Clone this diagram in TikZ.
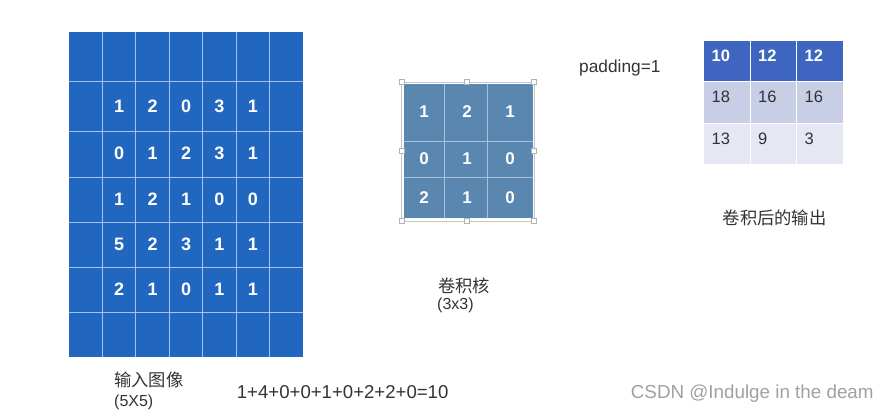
\documentclass[tikz,border=0pt]{standalone}
\usepackage{fontspec}
\setmainfont{Liberation Sans}
\newfontfamily\cjk{Noto Sans CJK SC}
\usetikzlibrary{positioning}
\definecolor{gridc}{HTML}{2167C0}
\definecolor{gridl}{HTML}{A3C2EC}
\definecolor{kerc}{HTML}{5A87B0}
\definecolor{kerl}{HTML}{A9C2DA}
\definecolor{outa}{HTML}{3E66C0}
\definecolor{outb}{HTML}{C8CEE6}
\definecolor{outc}{HTML}{E5E7F2}
\definecolor{txtc}{HTML}{333333}
\definecolor{wmc}{HTML}{A0A0A0}
\tikzset{
  num/.style={text=white,inner sep=0pt,font=\bfseries\fontsize{18}{18}\selectfont},
  knum/.style={text=white,inner sep=0pt,font=\bfseries\fontsize{17}{17}\selectfont},
  onum/.style={anchor=west,inner sep=0pt,text=txtc,font=\fontsize{16.5}{16}\selectfont},
  lbl/.style={anchor=west,inner sep=0pt,text=txtc,font=\cjk\fontsize{17.3}{20}\selectfont},
  txt/.style={anchor=west,inner sep=0pt,text=txtc,font=\fontsize{17.3}{20}\selectfont},
  handle/.style={draw=gray!60,fill=white,line width=0.6pt,minimum size=5pt,inner sep=0pt}
}

\begin{document}
\begin{tikzpicture}[x=1pt,y=-1pt]
\useasboundingbox (0,0) rectangle (891,416);
% input image, padded
\fill[gridc] (69,32) rectangle (303,357);
\foreach \i in {1,...,6}{\draw[gridl,line width=0.9pt] ({69+33.43*\i},32) -- ({69+33.43*\i},357);}
\foreach \y in {81,131,177,222,267,312}{\draw[gridl,line width=0.9pt] (69,\y) -- (303,\y);}
\foreach \r/\y/\vals in {1/106/{1,2,0,3,1},2/153.5/{0,1,2,3,1},3/199/{1,2,1,0,0},4/244.5/{5,2,3,1,1},5/289.5/{2,1,0,1,1}}{
  \foreach \v [count=\c] in \vals{
    \node[num] (in-\r-\c) at ({69+33.43*(\c+0.5)},\y) {\v};
  }
}
% kernel
\fill[kerc] (404,84) rectangle (533,218);
\foreach \x in {444.3,487.3}{\draw[kerl,line width=0.9pt] (\x,84) -- (\x,218);}
\foreach \y in {141,177}{\draw[kerl,line width=0.9pt] (404,\y) -- (533,\y);}
\draw[gray!45,line width=0.6pt] (401.7,82) rectangle (534,221);
\foreach \x/\y in {401.7/82,467/82,534/82,401.7/151,534/151,401.7/221,467/221,534/221}{
  \node[handle] at (\x,\y) {};
}
\foreach \r/\y/\vals in {1/111.7/{1,2,1},2/158.5/{0,1,0},3/197.7/{2,1,0}}{
  \foreach \v/\x [count=\c] in \vals{
    \node[knum] (k-\r-\c) at ({424+43*(\c-1)},\y) {\v};
  }
}
% output
\foreach \r/\ya/\yb/\col in {1/41/81/outa,2/81/123/outb,3/123/164/outc}{
  \foreach \xa/\xb in {704.3/750,750/796.7,796.7/842.7}{
    \fill[\col] (\xa,\ya) rectangle (\xb,\yb);
  }
}
\foreach \x in {750,796.7}{\draw[white,line width=1pt] (\x,41) -- (\x,164);}
\foreach \y in {81,123}{\draw[white,line width=1pt] (704.3,\y) -- (842.7,\y);}
\foreach \v [count=\c] in {10,12,12}{
  \node[onum,text=white,font=\bfseries\fontsize{16.5}{16}\selectfont] (o-1-\c) at ({711.5+46.5*(\c-1)},55.7) {\v};
}
\foreach \r/\y/\vals in {2/97.3/{18,16,16},3/139/{13,9,3}}{
  \foreach \v [count=\c] in \vals{
    \node[onum] (o-\r-\c) at ({711.5+46.5*(\c-1)},\y) {\v};
  }
}
% labels
\node[txt] (pad) at (579,68) {padding=1};
\node[lbl] (outlbl) at (722.5,218) {卷积后的输出};
\node[lbl] (klbl) at (438,285.5) {卷积核};
\node[txt,font=\fontsize{16}{20}\selectfont] (ksize) at (437,305.5) {(3x3)};
\node[lbl] (inlbl) at (114,380) {输入图像};
\node[txt,font=\fontsize{16}{20}\selectfont] (insize) at (114,402.5) {(5X5)};
\node[txt,font=\fontsize{18.6}{20}\selectfont] (calc) at (236.7,391.7) {1+4+0+0+1+0+2+2+0=10};
\node[txt,text=wmc,font=\fontsize{18.8}{20}\selectfont] (wm) at (630.7,394) {CSDN @Indulge in the deam};
\end{tikzpicture}
\end{document}
